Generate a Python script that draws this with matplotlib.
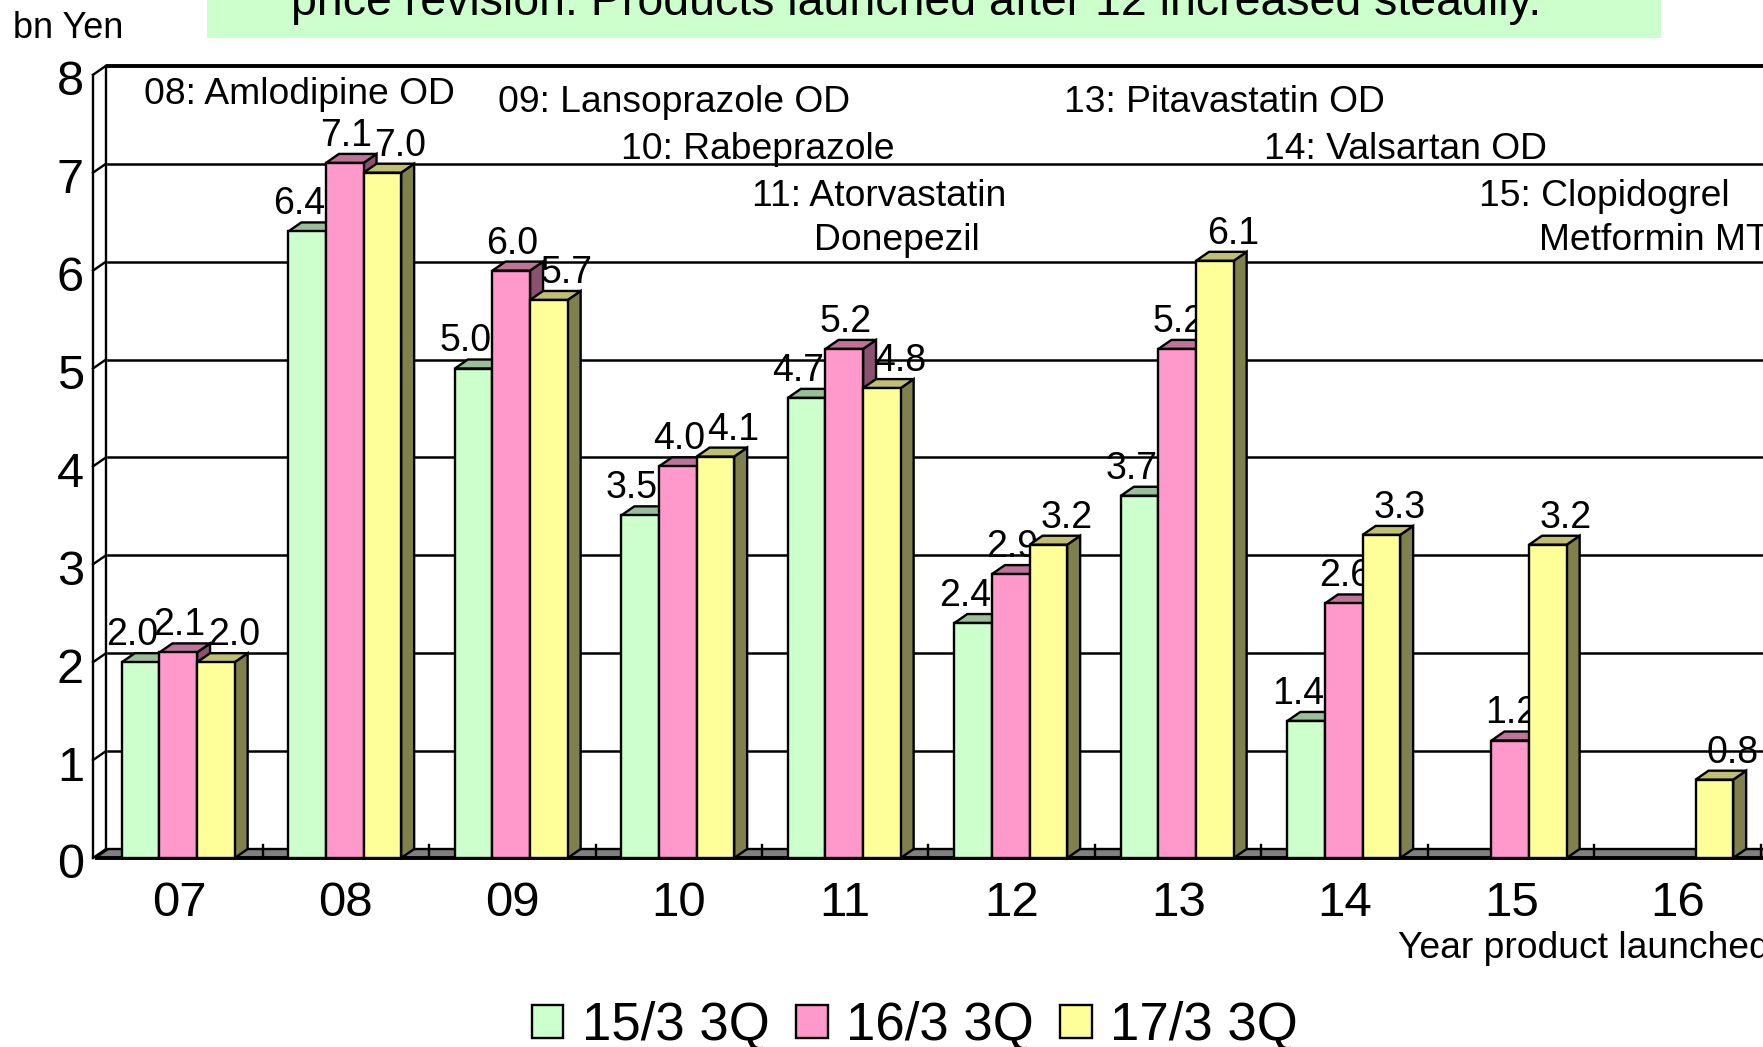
import numpy as np
import matplotlib
matplotlib.use("Agg")
import matplotlib.pyplot as plt
from matplotlib.patches import Polygon, Rectangle, Patch

plt.rcParams['font.family'] = ['Liberation Sans', 'DejaVu Sans']

# ---- data -------------------------------------------------------------
categories = ['07', '08', '09', '10', '11', '12', '13', '14', '15', '16']
series_names = ['15/3 3Q', '16/3 3Q', '17/3 3Q']
sales_15 = [2.0, 6.4, 5.0, 3.5, 4.7, 2.4, 3.7, 1.4, np.nan, np.nan]
sales_16 = [2.1, 7.1, 6.0, 4.0, 5.2, 2.9, 5.2, 2.6, 1.2, np.nan]
sales_17 = [2.0, 7.0, 5.7, 4.1, 4.8, 3.2, 6.1, 3.3, 3.2, 0.8]
y_ticks = [0, 1, 2, 3, 4, 5, 6, 7, 8]

products = ['08: Amlodipine OD', '09: Lansoprazole OD', '13: Pitavastatin OD',
            '10: Rabeprazole', '14: Valsartan OD',
            '11: Atorvastatin', 'Donepezil', '15: Clopidogrel', 'Metformin MT']
headline = 'price revision. Products launched after 12 increased steadily.'

# ---- styling ----------------------------------------------------------
front_colors = ['#CCFFCC', '#FF99CC', '#FFFF99']
top_colors = ['#99BF99', '#BF7399', '#BFBF73']
side_colors = ['#668066', '#8C5070', '#80804C']

W_PX, H_PX = 1763, 1047
fig = plt.figure(figsize=(W_PX / 100, H_PX / 100), dpi=100)


def fx(px):
    return px / W_PX


def fy(py):
    return 1 - py / H_PX


# axes geometry (pixels)
X0_PX, CAT_PX = 95.0, 166.5          # left edge of first category, category pitch
Y0_PX, UNIT_PX = 858.0, 97.9         # value 0 (front), pixels per unit
AX_TOP, AX_BOT = 40.0, 900.0

ax = fig.add_axes([fx(X0_PX), fy(AX_BOT), fx(W_PX - X0_PX), (AX_BOT - AX_TOP) / H_PX])
xmax = -0.5 + (W_PX - X0_PX) / CAT_PX
ax.set_xlim(-0.5, xmax)
ax.set_ylim(-(AX_BOT - Y0_PX) / UNIT_PX, (Y0_PX - AX_TOP) / UNIT_PX)
ax.axis('off')

DX = 13.0 / CAT_PX     # depth offset (x, category units)
DY = 9.0 / UNIT_PX     # depth offset (y, value units)
BW = 37.6 / CAT_PX     # bar width
LW = 1.7

# floor
xr = xmax + 0.5
floor = Polygon([(-0.5, 0), (xr, 0), (xr + DX, DY), (-0.5 + DX, DY)], closed=True,
                facecolor='#808080', edgecolor='black', lw=LW, zorder=1)
ax.add_patch(floor)
ax.plot([-0.5, xr], [0, 0], color='black', lw=2.8, zorder=1.5, solid_capstyle='butt')

# back-wall gridlines
for v in y_ticks[1:]:
    ax.plot([-0.5 + DX, xr + DX], [v + DY, v + DY], color='black',
            lw=2.8 if v == y_ticks[-1] else 1.8, zorder=0.5)

# left wall
xf = -0.5 - 2.0 / CAT_PX
ax.plot([xf, xf], [0, y_ticks[-1]], color='black', lw=LW, clip_on=False, zorder=2)
ax.plot([xf + DX, xf + DX], [DY, y_ticks[-1] + DY], color='black', lw=LW,
        clip_on=False, zorder=2)
for v in y_ticks:
    ax.plot([xf, xf + DX], [v, v + DY], color='black', lw=LW, clip_on=False, zorder=2)
    ax.text(xf - 9.0 / CAT_PX, v - 8.0 / UNIT_PX, str(v), ha='right', va='center',
            fontsize=35, clip_on=False)

# floor tick marks between categories
for k in range(len(categories)):
    ax.plot([k + 0.5 + 1 / CAT_PX] * 2, [0, 13.0 / UNIT_PX], color='black', lw=LW,
            zorder=1.6)

# category labels
for k, c in enumerate(categories):
    ax.text(k + 1.0 / CAT_PX, (Y0_PX - 904) / UNIT_PX, c, ha='center', va='center',
            fontsize=35.5, clip_on=False)

# 3-D bars
label_dx_pt = [-6, 1, 13]
all_series = [sales_15, sales_16, sales_17]
z = 3
for k in range(len(categories)):
    for s, vals in enumerate(all_series):
        v = vals[k]
        if np.isnan(v):
            continue
        x0 = k - 1.5 * BW + s * BW
        side = Polygon([(x0 + BW, 0), (x0 + BW + DX, DY), (x0 + BW + DX, v + DY),
                        (x0 + BW, v)], closed=True, facecolor=side_colors[s],
                       edgecolor='black', lw=LW, zorder=z)
        top = Polygon([(x0, v), (x0 + BW, v), (x0 + BW + DX, v + DY), (x0 + DX, v + DY)],
                      closed=True, facecolor=top_colors[s], edgecolor='black', lw=LW,
                      zorder=z)
        front = Rectangle((x0, 0), BW, v, facecolor=front_colors[s], edgecolor='black',
                          lw=LW, zorder=z + 0.5)
        ax.add_patch(side)
        ax.add_patch(top)
        ax.add_patch(front)
        ax.annotate(f'{v:.1f}', (x0 + BW / 2, v), xytext=(label_dx_pt[s], 19.5),
                    textcoords='offset points', ha='center', va='center', fontsize=27,
                    zorder=20)
        z += 1

# product annotations (launch year: product)
ann_pos = [(144, 94), (498, 102), (1064, 102), (621, 150), (1264, 150),
           (752, 196), (814, 241), (1479, 196), (1539, 241)]
for txt, (px, py) in zip(products, ann_pos):
    fig.text(fx(px), fy(py), txt, ha='left', va='center', fontsize=26.8)

# axis captions
fig.text(fx(13), fy(28), 'bn Yen', ha='left', va='center', fontsize=26)
fig.text(fx(1398), fy(948), 'Year product launched', ha='left', va='center',
         fontsize=26.8)

# headline banner
fig.patches.append(Rectangle((fx(207), fy(37.7)), fx(1661 - 207), 37.7 / H_PX + 0.01,
                             transform=fig.transFigure, facecolor='#CCFFCC',
                             edgecolor='none', zorder=0))
fig.text(fx(916), fy(15), headline, ha='center', va='baseline', fontsize=33.5)

# legend
handles = [Patch(facecolor=c, edgecolor='black', lw=LW) for c in front_colors]
fig.legend(handles, series_names, loc='center', bbox_to_anchor=(fx(915), fy(1026)),
           ncol=3, frameon=False, fontsize=38, handlelength=0.6, handleheight=0.6,
           handletextpad=0.35, columnspacing=0.5, borderpad=0, borderaxespad=0)

fig.savefig('out.png', dpi=100)
